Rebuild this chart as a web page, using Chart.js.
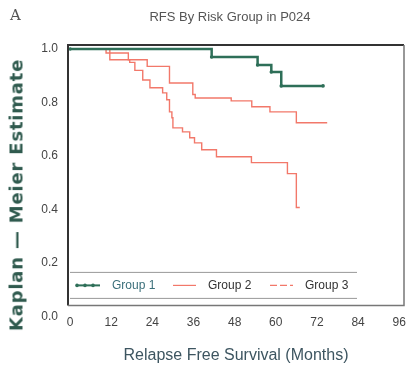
<!DOCTYPE html>
<html>
<head>
<meta charset="utf-8">
<script src="https://cdn.jsdelivr.net/npm/chart.js@4.4.0/dist/chart.umd.min.js"></script>
<style>
  html, body { margin: 0; padding: 0; background: #fff; }
  #wrap { position: relative; width: 408px; height: 365px; }
  #panel { position: absolute; left: 10px; top: 6px; font: 15px "DejaVu Serif", serif; color: #555; }
  #title { position: absolute; left: 0; width: 460px; top: 9px; text-align: center;
           font: 13px "Liberation Sans", sans-serif; color: #555; }
  #ytitle { position: absolute; left: 16px; top: 195px; white-space: nowrap;
            transform: translate(-50%, -50%) rotate(-90deg);
            font: bold 18px "DejaVu Sans", sans-serif; letter-spacing: 0.8px; color: #2f5a4e; }
</style>
</head>
<body>
<div id="wrap">
  <canvas id="km" width="408" height="365"></canvas>
  <div id="panel">A</div>
  <div id="title">RFS By Risk Group in P024</div>
  <div id="ytitle">Kaplan — Meier Estimate</div>
</div>
<script>
// time of each drop (months) and survival after it
const g1Months = [0, 41.3, 54.7, 58.7, 61.6, 73.8];
const g1Surv   = [1.0, 0.970, 0.940, 0.914, 0.862, 0.862];

const g2Months = [0, 10.5, 17, 22.5, 29, 35.8, 36.5, 47, 53, 58.3, 66, 75];
const g2Surv   = [1.0, 0.985, 0.96, 0.935, 0.873, 0.83, 0.817, 0.806, 0.784, 0.765, 0.724, 0.724];

const g3Months = [0, 11.6, 17.4, 18.9, 21.2, 23.3, 27, 28.2, 29, 29.7, 30, 32.8, 34.9, 36.3, 38.4, 42.7, 52.9, 63.4, 66, 67];
const g3Surv   = [1.0, 0.96, 0.95, 0.92, 0.884, 0.855, 0.836, 0.81, 0.765, 0.743, 0.705, 0.69, 0.668, 0.649, 0.623, 0.597, 0.575, 0.534, 0.407, 0.407];

const groupNames = ['Group 1', 'Group 2', 'Group 3'];
const xTicks = [0, 12, 24, 36, 48, 60, 72, 84, 96];
const yTicks = [0, 0.2, 0.4, 0.6, 0.8, 1.0];

const green = '#2e6f58';
const salmon = '#f2786a';
const font = '"Liberation Sans", Arial, sans-serif';

const pts = (ms, ss) => ms.map((m, i) => ({ x: m, y: ss[i] }));

// frame around plot + legend box inside plot
const framePlugin = {
  id: 'frame',
  afterDraw(chart) {
    const { ctx, chartArea: a } = chart;
    ctx.save();
    ctx.strokeStyle = '#333';
    ctx.lineWidth = 2;
    ctx.beginPath();
    ctx.moveTo(a.left, a.bottom); ctx.lineTo(a.left, a.top); ctx.lineTo(a.right, a.top);
    ctx.stroke();
    ctx.strokeStyle = '#777';
    ctx.lineWidth = 1.5;
    ctx.beginPath();
    ctx.moveTo(a.right, a.top); ctx.lineTo(a.right, a.bottom); ctx.lineTo(a.left, a.bottom);
    ctx.stroke();

    // legend
    const top = a.bottom - 33, bot = a.bottom - 7, lx = a.left + 2, rx = a.left + 289;
    ctx.strokeStyle = '#999';
    ctx.lineWidth = 1;
    ctx.beginPath();
    ctx.moveTo(lx, top); ctx.lineTo(rx, top);
    ctx.moveTo(lx, bot); ctx.lineTo(rx, bot);
    ctx.stroke();
    const cy = (top + bot) / 2;
    const slots = [a.left + 9, a.left + 105, a.left + 202];
    chart.data.datasets.forEach((ds, i) => {
      const sx = slots[i];
      ctx.strokeStyle = ds.borderColor;
      ctx.lineWidth = i === 0 ? 2 : 1.2;
      ctx.setLineDash(i === 2 ? [7, 3] : []);
      ctx.beginPath(); ctx.moveTo(sx, cy); ctx.lineTo(sx + 23, cy); ctx.stroke();
      ctx.setLineDash([]);
      if (i === 0) {
        ctx.fillStyle = ds.borderColor;
        [sx, sx + 8, sx + 16].forEach(px => { ctx.beginPath(); ctx.arc(px, cy, 1.8, 0, 2 * Math.PI); ctx.fill(); });
      }
      ctx.fillStyle = i === 0 ? '#3b6f7a' : '#333';
      ctx.font = '12px ' + font;
      ctx.textBaseline = 'middle';
      ctx.fillText(ds.label, sx + 35, cy);
    });
    ctx.restore();
  }
};

new Chart(document.getElementById('km'), {
  type: 'line',
  data: {
    datasets: [
      { label: groupNames[0], data: pts(g1Months, g1Surv), borderColor: green, borderWidth: 2.5,
        stepped: true, pointRadius: 1.8, pointBackgroundColor: green, pointBorderWidth: 0 },
      { label: groupNames[1], data: pts(g2Months, g2Surv), borderColor: salmon, borderWidth: 1.4,
        stepped: true, pointRadius: 0 },
      { label: groupNames[2], data: pts(g3Months, g3Surv), borderColor: salmon, borderWidth: 1.4,
        stepped: true, pointRadius: 0 }
    ]
  },
  options: {
    responsive: false,
    animation: false,
    layout: { padding: { top: 45, right: 2, left: 0, bottom: 0 } },
    plugins: { legend: { display: false }, tooltip: { enabled: false } },
    scales: {
      x: {
        type: 'linear', min: -0.6, max: 97.4,
        afterBuildTicks: s => { s.ticks = xTicks.map(v => ({ value: v })); },
        afterFit: s => { s.paddingLeft = 0; s.paddingRight = 0; },
        grid: { display: false, drawTicks: false },
        border: { display: false },
        ticks: { padding: 10, color: '#444', font: { family: font, size: 12 } },
        title: { display: true, text: 'Relapse Free Survival (Months)', color: '#3d5560',
                 padding: { top: 6, bottom: 0 }, font: { family: font, size: 16 } }
      },
      y: {
        min: 0.041, max: 1.015,
        afterBuildTicks: s => { s.ticks = yTicks.map(v => ({ value: v })); },
        afterFit: s => { s.width = 68; },
        grid: { display: false, drawTicks: false },
        border: { display: false },
        ticks: { padding: 10, color: '#444', callback: v => v.toFixed(1),
                 font: { family: font, size: 12 } }
      }
    }
  },
  plugins: [framePlugin]
});
</script>
</body>
</html>
